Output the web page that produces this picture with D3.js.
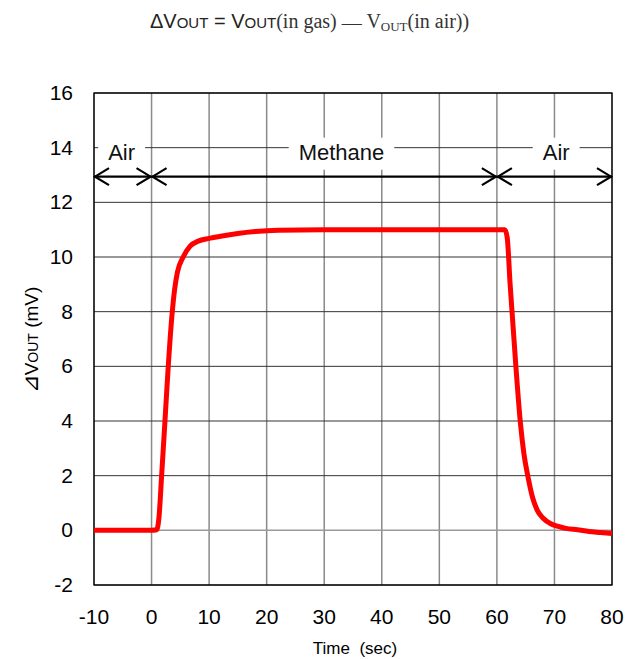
<!DOCTYPE html>
<html>
<head>
<meta charset="utf-8">
<script src="https://cdn.jsdelivr.net/npm/d3@7"></script>
<style>
  body { margin: 0; background: #fff; }
  text { font-family: "Liberation Sans", Arial, sans-serif; }
</style>
</head>
<body>
<div id="chart"></div>
<script>
// time (sec) and response (mV)
var times = [-10, -5, 0, 0.9, 1.3, 1.75, 2.33, 2.9, 3.6, 4.0, 4.5, 5.5, 6.7, 8.1, 10, 12, 15, 18, 22, 30, 40, 50, 60, 61.4,
  61.8, 62.3, 62.8, 63.3, 64.1, 64.7, 65.4, 66.2, 67.0, 68, 69.2, 70.5, 72, 74, 76, 78, 80];
var deltaVout = [0, 0, 0, 0.02, 0.5, 2.0, 4.0, 6.0, 8.0, 8.8, 9.45, 10.0, 10.4, 10.58, 10.68, 10.76, 10.86, 10.93, 10.98, 11.0, 11.0, 11.0, 11.0, 11.0,
  10.7, 9.0, 7.5, 6.0, 3.9, 2.8, 1.96, 1.2, 0.74, 0.45, 0.26, 0.15, 0.07, 0.02, -0.04, -0.08, -0.12];

var xTicks = [-10, 0, 10, 20, 30, 40, 50, 60, 70, 80];
var yTicks = [-2, 0, 2, 4, 6, 8, 10, 12, 14, 16];

// gas phases shown by the arrows
var phaseNames = ["Air", "Methane", "Air"];
var phaseStart = [-10, 0, 60];
var phaseEnd = [0, 60, 80];
var phaseLabelX = [-5.2, 33, 70.3];

var width = 640, height = 659;
var plotLeft = 94, plotRight = 612, plotTop = 93, plotBottom = 585;

var svg = d3.select("#chart").append("svg")
  .attr("width", width)
  .attr("height", height);

var x = d3.scaleLinear().domain([-10, 80]).range([plotLeft, plotRight]);
var y = d3.scaleLinear().domain([-2, 16]).range([plotBottom, plotTop]);

// grid
svg.append("g").selectAll("line")
  .data(xTicks)
  .join("line")
  .attr("x1", d => x(d)).attr("x2", d => x(d))
  .attr("y1", plotTop).attr("y2", plotBottom)
  .attr("stroke", "#8a8a8a")
  .attr("stroke-width", 1.5);

svg.append("g").selectAll("line")
  .data(yTicks)
  .join("line")
  .attr("x1", plotLeft).attr("x2", plotRight)
  .attr("y1", d => y(d)).attr("y2", d => y(d))
  .attr("stroke", d => d === 0 ? "#9a9a9a" : "#333")
  .attr("stroke-width", d => d === 0 ? 1.5 : 1);

// phase labels with white boxes
var labels = svg.append("g");
phaseNames.forEach((name, i) => {
  var t = labels.append("text")
    .attr("x", x(phaseLabelX[i]))
    .attr("y", y(14) + 12)
    .attr("text-anchor", "middle")
    .attr("font-size", 22)
    .attr("fill", "#111")
    .text(name);
  var w = t.node().getComputedTextLength();
  labels.insert("rect", "text")
    .attr("x", x(phaseLabelX[i]) - w / 2 - 10)
    .attr("y", y(14) - 10)
    .attr("width", w + 20)
    .attr("height", 32)
    .attr("fill", "#fff");
});

// frame
svg.append("rect")
  .attr("x", plotLeft).attr("y", plotTop)
  .attr("width", plotRight - plotLeft).attr("height", plotBottom - plotTop)
  .attr("fill", "none")
  .attr("stroke", "#000")
  .attr("stroke-width", 1.3);

// arrows
var arrowY = y(12.94);
var arrows = svg.append("g")
  .attr("fill", "none")
  .attr("stroke", "#000")
  .attr("stroke-width", 2.2);
phaseStart.forEach((s, i) => {
  var x0 = x(s), x1 = x(phaseEnd[i]);
  arrows.append("line")
    .attr("x1", x0).attr("x2", x1)
    .attr("y1", arrowY).attr("y2", arrowY);
  arrows.append("path")
    .attr("d", `M${x0 + 15},${arrowY - 8.5}L${x0 + 1},${arrowY}L${x0 + 15},${arrowY + 8.5}`);
  arrows.append("path")
    .attr("d", `M${x1 - 15},${arrowY - 8.5}L${x1 - 1},${arrowY}L${x1 - 15},${arrowY + 8.5}`);
});

// response curve
var line = d3.line()
  .x((d, i) => x(times[i]))
  .y(d => y(d))
  .curve(d3.curveMonotoneX);

svg.append("path")
  .datum(deltaVout)
  .attr("d", line)
  .attr("fill", "none")
  .attr("stroke", "#ff0000")
  .attr("stroke-width", 5)
  .attr("stroke-linejoin", "round");

// tick labels
svg.append("g").selectAll("text")
  .data(xTicks)
  .join("text")
  .attr("x", d => x(d))
  .attr("y", 624)
  .attr("text-anchor", "middle")
  .attr("font-size", 21)
  .attr("fill", "#000")
  .text(d => d);

svg.append("g").selectAll("text")
  .data(yTicks)
  .join("text")
  .attr("x", 73)
  .attr("y", d => y(d) + 7)
  .attr("text-anchor", "end")
  .attr("font-size", 21)
  .attr("fill", "#000")
  .text(d => d);

// axis titles
svg.append("text")
  .attr("x", 355)
  .attr("y", 654)
  .attr("text-anchor", "middle")
  .attr("font-size", 17)
  .attr("xml:space", "preserve")
  .text("Time  (sec)");

var yTitle = svg.append("text")
  .attr("transform", "translate(38,340) rotate(-90)")
  .attr("text-anchor", "middle")
  .attr("font-size", 19);
yTitle.append("tspan").attr("font-size", 22).text("⊿");
yTitle.append("tspan").text("V");
yTitle.append("tspan").attr("font-size", 14).text("OUT");
yTitle.append("tspan").text(" (mV)");

// formula on top
var title = svg.append("text")
  .attr("x", 150)
  .attr("y", 28)
  .attr("font-size", 20)
  .attr("fill", "#222");
title.append("tspan").text("ΔV");
title.append("tspan").attr("font-size", 15).text("OUT");
title.append("tspan").text(" = V");
title.append("tspan").attr("font-size", 15).text("OUT");
title.append("tspan").attr("font-family", "Liberation Serif, serif").attr("fill", "#333").text("(in gas)");
title.append("tspan").attr("font-family", "Liberation Serif, serif").attr("fill", "#333").attr("dy", 2).text(" \u2014 ");
title.append("tspan").attr("font-family", "Liberation Serif, serif").attr("fill", "#333").attr("dy", -2).text("V");
title.append("tspan").attr("font-family", "Liberation Serif, serif").attr("fill", "#333").attr("font-size", 13).attr("dy", 3).text("OUT");
title.append("tspan").attr("font-family", "Liberation Serif, serif").attr("fill", "#333").attr("dy", -3).text("(in air))");
</script>
</body>
</html>
